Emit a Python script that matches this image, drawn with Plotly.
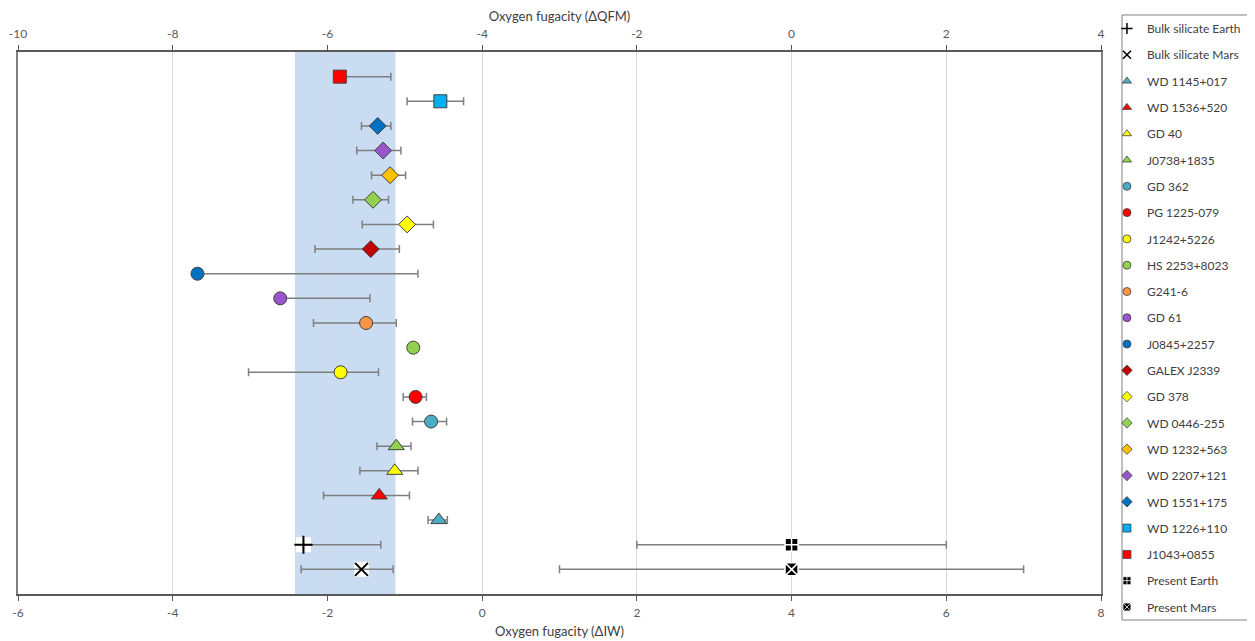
import plotly.graph_objects as go

# ---------------- data (legend order) ----------------
names = ["Bulk silicate Earth", "Bulk silicate Mars",
         "WD 1145+017", "WD 1536+520", "GD 40", "J0738+1835",
         "GD 362", "PG 1225-079", "J1242+5226", "HS 2253+8023", "G241-6", "GD 61", "J0845+2257",
         "GALEX J2339", "GD 378", "WD 0446-255", "WD 1232+563", "WD 2207+121", "WD 1551+175",
         "WD 1226+110", "J1043+0855",
         "Present Earth", "Present Mars"]
rows = [20, 21,
        19, 18, 17, 16,
        15, 14, 13, 12, 11, 10, 9,
        8, 7, 6, 5, 4, 3,
        2, 1,
        20, 21]
delta_iw = [-2.31, -1.56,
            -0.56, -1.33, -1.13, -1.11,
            -0.66, -0.86, -1.83, -0.89, -1.50, -2.61, -3.68,
            -1.44, -0.97, -1.41, -1.19, -1.28, -1.35,
            -0.54, -1.84,
            4.0, 4.0]
err_minus = [0.0, 0.78,
             0.14, 0.72, 0.45, 0.25,
             0.24, 0.16, 1.19, 0.0, 0.68, 0.0, 0.0,
             0.72, 0.58, 0.26, 0.24, 0.34, 0.21,
             0.43, 0.0,
             2.0, 3.0]
err_plus = [1.00, 0.41,
            0.11, 0.39, 0.30, 0.19,
            0.20, 0.14, 0.49, 0.0, 0.39, 1.16, 2.85,
            0.37, 0.34, 0.20, 0.20, 0.23, 0.17,
            0.30, 0.66,
            2.0, 3.0]

# shaded range (ΔIW)
band_iw = [-2.42, -1.12]

iw_ticks = [-6, -4, -2, 0, 2, 4, 6, 8]
iw_labels = ["-6", "-4", "-2", "0", "2", "4", "6", "8"]
qfm_ticks = [-10, -8, -6, -4, -2, 0, 2, 4]
qfm_labels = ["-10", "-8", "-6", "-4", "-2", "0", "2", "4"]
n_rows = 21

# ---------------- styles ----------------
symbols = ["cross-thin", "x-thin",
           "triangle-up", "triangle-up", "triangle-up", "triangle-up",
           "circle", "circle", "circle", "circle", "circle", "circle", "circle",
           "diamond", "diamond", "diamond", "diamond", "diamond", "diamond",
           "square", "square",
           "square-cross", "square-x"]
colors = ["#000000", "#000000",
          "#4BACC6", "#FF0000", "#FFFF00", "#92D050",
          "#4BACC6", "#FF0000", "#FFFF00", "#92D050", "#F79646", "#9955CC", "#0070C0",
          "#C00000", "#FFFF00", "#92D050", "#FFC000", "#9955CC", "#0070C0",
          "#00B0F0", "#FF0000",
          "#000000", "#000000"]
sizes = {"cross-thin": 13, "x-thin": 13, "triangle-up": 14, "circle": 13,
         "diamond": 13, "square": 13, "square-cross": 13, "square-x": 13}
legend_split = 11  # first legend block holds this many entries

FONT = "Lato, 'Open Sans', sans-serif"
fig = go.Figure()


def marker_for(i, size, thin_w=2.0, edge_w=1.0):
    sym = symbols[i]
    if sym in ("cross-thin", "x-thin"):
        return dict(symbol=sym, size=size, color=colors[i],
                    line=dict(color="#000000", width=thin_w))
    if sym in ("square-cross", "square-x"):
        return dict(symbol=sym, size=size, color=colors[i],
                    line=dict(color="#FFFFFF", width=edge_w))
    return dict(symbol=sym, size=size, color=colors[i],
                line=dict(color="#404040", width=edge_w))


# white background patch behind the thin bulk-silicate markers
for i in range(len(names)):
    if symbols[i] in ("cross-thin", "x-thin"):
        fig.add_trace(go.Scatter(
            x=[delta_iw[i]], y=[rows[i]], mode="markers",
            marker=dict(symbol="square", size=15, color="white", line=dict(width=0)),
            showlegend=False, hoverinfo="skip"))

# plotted points with error bars
for i in range(len(names)):
    fig.add_trace(go.Scatter(
        x=[delta_iw[i]], y=[rows[i]], mode="markers", name=names[i],
        legendgroup=names[i], showlegend=False,
        marker=marker_for(i, sizes[symbols[i]],
                          edge_w=1.5 if symbols[i] in ("square-cross", "square-x") else 1.0),
        error_x=dict(type="data", symmetric=False,
                     array=[err_plus[i]], arrayminus=[err_minus[i]],
                     color="#7F7F7F", thickness=1.5, width=4),
    ))

# legend entries (small symbols, as in the original legend)
for i in range(len(names)):
    fig.add_trace(go.Scatter(
        x=[None], y=[None], mode="markers", name=names[i],
        legendgroup=names[i], showlegend=True,
        legend="legend" if i < legend_split else "legend2",
        marker=marker_for(i, 8, thin_w=1.5, edge_w=0.8),
    ))

# dummy trace carrying the top (ΔQFM) axis
fig.add_trace(go.Scatter(x=[qfm_ticks[0]], y=[None], xaxis="x2", mode="markers",
                         showlegend=False, hoverinfo="skip"))

fig.add_shape(type="rect", xref="x", yref="paper",
              x0=band_iw[0], x1=band_iw[1], y0=0, y1=1,
              fillcolor="#C9DCF1", line=dict(width=0), layer="below")

# legend frame
fig.add_shape(type="rect", xref="paper", yref="paper",
              x0=1.0194, x1=1.1376, y0=-0.048, y1=1.0683,
              line=dict(color="#808080", width=1), fillcolor="rgba(0,0,0,0)")

axis_common = dict(
    zeroline=False, showline=True, linecolor="#595959", linewidth=2,
    ticks="outside", ticklen=5, tickcolor="#595959", tickwidth=1,
    tickfont=dict(family=FONT, size=12, color="#595959"),
)

legend_common = dict(xanchor="left", yanchor="top", bgcolor="rgba(0,0,0,0)",
                     borderwidth=0, font=dict(family=FONT, size=12, color="#404040"),
                     tracegroupgap=7.3, itemsizing="trace")

# page body has an 8px margin: figure is sized/offset so the plot sits at the
# reference pixel positions inside the 1255x641 window
fig.update_layout(
    width=1247, height=633,
    margin=dict(l=10, r=154, t=44, b=47, autoexpand=False),
    paper_bgcolor="white", plot_bgcolor="white",
    font=dict(family=FONT, color="#404040"),
    xaxis=dict(range=[iw_ticks[0], iw_ticks[-1]], tickvals=iw_ticks, ticktext=iw_labels,
               showgrid=True, gridcolor="#D9D9D9", gridwidth=1, ticklabelstandoff=2,
               **axis_common,
               title=dict(text="Oxygen fugacity (ΔIW)", standoff=7,
                          font=dict(family=FONT, size=13, color="#404040"))),
    xaxis2=dict(range=[qfm_ticks[0], qfm_ticks[-1]], tickvals=qfm_ticks, ticktext=qfm_labels,
                overlaying="x", side="top", showgrid=False, ticklabelstandoff=2,
                **axis_common,
                title=dict(text="Oxygen fugacity (ΔQFM)", standoff=4,
                           font=dict(family=FONT, size=13, color="#404040"))),
    yaxis=dict(range=[n_rows + 1, 0], showgrid=False, zeroline=False,
               showticklabels=False, ticks="", showline=True, mirror=True,
               linecolor="#7F7F7F", linewidth=1.5),
    legend=dict(x=1.0055, y=1.0701, **legend_common),
    legend2=dict(x=1.0055, y=0.5365, **legend_common),
    showlegend=True,
)

fig.write_html("out.html")
